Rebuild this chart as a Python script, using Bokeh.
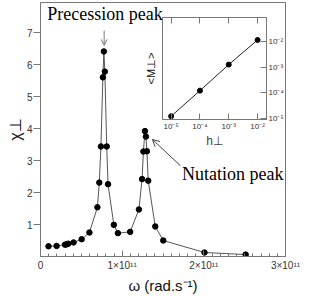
from bokeh.plotting import figure
from bokeh.models import Range1d, FixedTicker, Label, Arrow, OpenHead, LogAxis, ColumnDataSource
from bokeh.layouts import column
from bokeh.embed import file_html
from bokeh.resources import INLINE

# ---- main data: susceptibility vs frequency ----
omega = [0.98e10, 1.97e10, 3.0e10, 3.2e10, 3.4e10, 4.05e10, 5.04e10, 5.99e10,
         6.97e10, 7.2e10, 7.4e10, 7.64e10, 7.76e10, 7.88e10, 8.11e10, 8.27e10,
         8.98e10, 9.48e10, 1.098e11, 1.205e11, 1.244e11, 1.26e11, 1.279e11,
         1.291e11, 1.303e11, 1.319e11, 1.405e11, 1.503e11, 2.008e11, 2.512e11]
chi = [0.32, 0.33, 0.37, 0.38, 0.40, 0.44, 0.54, 0.75,
       1.54, 2.31, 3.44, 5.6, 6.41, 5.78, 3.44, 2.26,
       0.99, 0.73, 0.77, 1.47, 2.42, 3.28, 3.92,
       3.75, 3.29, 2.37, 0.94, 0.50, 0.125, 0.06]

x_ticks = [0, 1e11, 2e11, 3e11]
x_tick_labels = ["0", "1×10¹¹", "2×10¹¹", "3×10¹¹"]
x_minor = [i * 1e10 for i in range(1, 30)]
y_ticks = [1, 2, 3, 4, 5, 6, 7]

# ---- inset data: magnetisation vs field ----
h_perp = [1e-5, 1e-4, 1e-3, 1e-2]
m_perp = [1.2e-5, 1.2e-4, 1.25e-3, 1.15e-2]
h_ticks = [1e-5, 1e-4, 1e-3, 1e-2]
h_tick_labels = ["10⁻⁵", "10⁻⁴", "10⁻³", "10⁻²"]
m_ticks = [1e-5, 1e-4, 1e-3, 1e-2, 1e-1]
m_tick_labels = ["10⁻⁵", "10⁻⁴", "10⁻³", "10⁻²", "10⁻¹"]

GRAY = "#777777"
SANS = "Liberation Sans"
SERIF = "Liberation Serif"

p = figure(width=311, height=296, output_backend="svg", toolbar_location=None,
           x_range=Range1d(0, 3e11), y_range=Range1d(0, 7.94),
           min_border_left=40, min_border_right=17, min_border_top=2, min_border_bottom=40)
p.background_fill_color = "white"
p.border_fill_color = "white"
p.outline_line_color = GRAY
p.grid.visible = False

src = ColumnDataSource(dict(x=omega, y=chi))
p.line("x", "y", source=src, line_color="#555555", line_width=1)
p.scatter("x", "y", source=src, size=5.5, color="black")

xa = p.xaxis[0]
xa.ticker = FixedTicker(ticks=x_ticks, minor_ticks=x_minor)
xa.major_label_overrides = {t: l for t, l in zip(x_ticks, x_tick_labels)}
xa.major_tick_in = 6
xa.major_tick_out = 0
xa.minor_tick_in = 3
xa.minor_tick_out = 0
xa.axis_line_color = GRAY
xa.major_tick_line_color = GRAY
xa.minor_tick_line_color = GRAY
xa.major_label_text_font = SANS
xa.major_label_text_font_size = "10px"
xa.major_label_text_color = "#333333"
xa.major_label_standoff = 3
xa.axis_label = "ω (rad.s⁻¹)"
xa.axis_label_text_font = SANS
xa.axis_label_text_font_size = "15px"
xa.axis_label_text_font_style = "normal"
xa.axis_label_text_color = "#111111"
xa.axis_label_standoff = 3

ya = p.yaxis[0]
ya.ticker = FixedTicker(ticks=y_ticks, minor_ticks=[])
ya.major_tick_in = 0
ya.major_tick_out = 7
ya.minor_tick_line_color = None
ya.axis_line_color = GRAY
ya.major_tick_line_color = GRAY
ya.major_label_text_font = SANS
ya.major_label_text_font_size = "10px"
ya.major_label_text_color = "#333333"
ya.major_label_standoff = 1
ya.axis_label = "χ⊥"
ya.axis_label_text_font = SANS
ya.axis_label_text_font_size = "16px"
ya.axis_label_text_font_style = "normal"
ya.axis_label_text_color = "#111111"
ya.axis_label_standoff = 0

# annotations
p.add_layout(Label(x=0.83e10, y=7.59, text="Precession peak",
                   text_font=SERIF, text_font_size="18px",
                   text_align="left", text_baseline="middle", text_color="black"))
p.add_layout(Arrow(x_start=0.7795e11, y_start=7.06, x_end=0.7795e11, y_end=6.6,
                   line_color=GRAY, line_width=1,
                   end=OpenHead(size=6, line_color=GRAY, line_width=1)))
p.add_layout(Label(x=1.733e11, y=2.59, text="Nutation peak",
                   text_font=SERIF, text_font_size="18px",
                   text_align="left", text_baseline="middle", text_color="black"))
p.add_layout(Arrow(x_start=1.7125e11, y_start=2.84, x_end=1.37e11, y_end=3.66,
                   line_color="#444444", line_width=1,
                   end=OpenHead(size=7, line_color="#444444", line_width=1)))

# ---- inset ----
ins = figure(width=170, height=138, output_backend="svg", toolbar_location=None,
             x_axis_type="log", y_axis_type="log", y_axis_location="right",
             x_range=Range1d(10 ** -5.3, 10 ** -1.69), y_range=Range1d(10 ** -5.05, 10 ** -1.06),
             min_border_left=22, min_border_right=26, min_border_top=4, min_border_bottom=32)
ins.background_fill_color = "white"
ins.border_fill_alpha = 0
ins.outline_line_color = GRAY
ins.grid.visible = False
isrc = ColumnDataSource(dict(x=h_perp, y=m_perp))
ins.line("x", "y", source=isrc, line_color="#222222", line_width=1)
ins.scatter("x", "y", source=isrc, size=5, color="black")

bx = ins.xaxis[0]
bx.ticker = FixedTicker(ticks=h_ticks, minor_ticks=[])
bx.major_label_overrides = {t: l for t, l in zip(h_ticks, h_tick_labels)}
by = ins.yaxis[0]
by.ticker = FixedTicker(ticks=m_ticks, minor_ticks=[])
by.major_label_overrides = {t: l for t, l in zip(m_ticks, m_tick_labels)}
for ax in (bx, by):
    ax.major_tick_in = 6
    ax.major_tick_out = 0
    ax.minor_tick_line_color = None
    ax.axis_line_color = GRAY
    ax.major_tick_line_color = GRAY
    ax.major_label_text_font = SANS
    ax.major_label_text_font_size = "8px"
    ax.major_label_text_color = "#333333"
    ax.major_label_standoff = 2
bx.axis_label = "h⊥"
bx.axis_label_text_font = SANS
bx.axis_label_text_font_size = "12px"
bx.axis_label_text_font_style = "normal"
bx.axis_label_standoff = 0

top_ax = LogAxis(ticker=FixedTicker(ticks=h_ticks, minor_ticks=[]),
                 major_tick_in=6, major_tick_out=0, minor_tick_line_color=None,
                 axis_line_color=None, major_tick_line_color=GRAY,
                 major_label_text_color=None, major_label_text_font_size="1px",
                 major_label_standoff=0)
top_ax.major_label_overrides = {t: " " for t in h_ticks}
ins.add_layout(top_ax, "above")

left_ax = LogAxis(ticker=FixedTicker(ticks=[1e-5], minor_ticks=[]),
                  major_tick_in=0, major_tick_out=0, minor_tick_line_color=None,
                  axis_line_color=None, major_tick_line_color=None,
                  major_label_text_color=None, major_label_text_font_size="1px",
                  major_label_standoff=0,
                  axis_label="<M⊥>", axis_label_text_font=SANS, axis_label_text_font_size="11px",
                  axis_label_text_font_style="normal", axis_label_text_color="#111111",
                  axis_label_standoff=6)
left_ax.major_label_overrides = {1e-5: " "}
ins.add_layout(left_ax, "left")

ins.styles = {"position": "absolute", "left": "122px", "top": "13px"}

layout = column(p, ins)
open("out.html", "w").write(file_html(layout, INLINE))
